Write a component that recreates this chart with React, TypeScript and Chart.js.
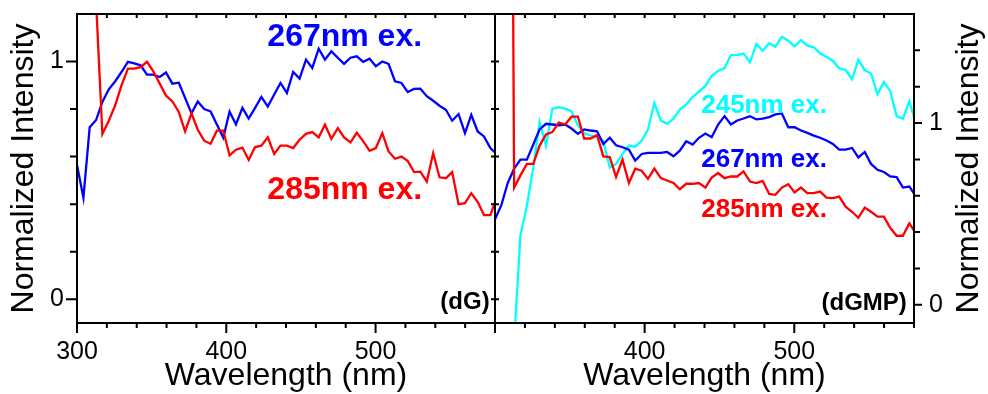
import React, { useEffect, useRef } from 'react';
import { Chart, registerables } from 'chart.js';

Chart.register(...registerables);

const FONT = '"Liberation Sans", Arial, Helvetica, sans-serif';
const BLUE = '#0000ff';
const RED = '#ff0000';
const CYAN = '#00ffff';

// Emission wavelength grid (nm)
const WAVELENGTH = [
  300.0, 304.3, 308.5, 312.8, 317.0, 321.3, 325.6, 329.8, 334.1, 338.3,
  342.6, 346.9, 351.1, 355.4, 359.6, 363.9, 368.2, 372.4, 376.7, 380.9,
  385.2, 389.5, 393.7, 398.0, 402.2, 406.5, 410.8, 415.0, 419.3, 423.5,
  427.8, 432.1, 436.3, 440.6, 444.8, 449.1, 453.4, 457.6, 461.9, 466.1,
  470.4, 474.7, 478.9, 483.2, 487.4, 491.7, 496.0, 500.2, 504.5, 508.7,
  513.0, 517.3, 521.5, 525.8, 530.0, 534.3, 538.6, 542.8, 547.1, 551.3,
  555.6, 559.9, 564.1, 568.4, 572.6, 576.9, 581.2,
];

// dG panel
const DG_267 = [
  0.565, 0.427, 0.724, 0.754, 0.83, 0.883, 0.917, 0.956, 0.999, 0.992,
  0.984, 0.945, 0.945, 0.935, 0.954, 0.907, 0.911, 0.847, 0.782, 0.832,
  0.80, 0.79, 0.735, 0.68, 0.789, 0.735, 0.805, 0.76, 0.805, 0.851,
  0.811, 0.861, 0.91, 0.868, 0.956, 0.928, 1.008, 0.973, 1.054, 1.008,
  1.043, 1.016, 0.99, 1.016, 1.022, 0.999, 1.012, 0.98, 1.0, 0.99,
  0.917, 0.91, 0.872, 0.885, 0.886, 0.854, 0.835, 0.814, 0.797, 0.751,
  0.779, 0.699, 0.776, 0.706, 0.685, 0.636, 0.61,
];
const DG_285 = [
  null, null, 2.5, 1.25, 0.695, 0.751, 0.816, 0.90, 0.97, 0.97,
  0.976, 0.999, 0.959, 0.907, 0.857, 0.832, 0.788, 0.706, 0.782, 0.713,
  0.667, 0.654, 0.709, 0.709, 0.605, 0.629, 0.638, 0.586, 0.64, 0.646,
  0.681, 0.611, 0.646, 0.646, 0.636, 0.671, 0.696, 0.703, 0.681, 0.734,
  0.675, 0.72, 0.681, 0.66, 0.70, 0.665, 0.624, 0.636, 0.699, 0.622,
  0.591, 0.60, 0.582, 0.535, 0.537, 0.495, 0.615, 0.513, 0.509, 0.535,
  0.40, 0.404, 0.446, 0.41, 0.354, 0.354, 0.43,
];

// dGMP panel
const DGMP_245 = [
  null, null, null, -0.2, 0.383, 0.544, 0.756, 1.005, 0.876, 1.079,
  1.088, 1.079, 1.066, 0.987, 0.944, 0.931, 0.926, 0.90, 0.756, 0.775,
  0.83, 0.876, 0.870, 0.904, 0.963, 1.11, 1.014, 0.996, 1.024, 1.074,
  1.103, 1.143, 1.173, 1.204, 1.26, 1.287, 1.302, 1.374, 1.374, 1.383,
  1.334, 1.435, 1.398, 1.439, 1.42, 1.475, 1.453, 1.422, 1.457, 1.426,
  1.417, 1.383, 1.365, 1.343, 1.30, 1.293, 1.241, 1.348, 1.291, 1.273,
  1.158, 1.226, 1.177, 1.038, 1.024, 1.121, 1.0,
];
const DGMP_267 = [
  0.47, 0.55, 0.67, 0.749, 0.799, 0.799, 0.882, 0.965, 0.996, 0.992,
  0.988, 0.992, 0.97, 0.941, 0.965, 0.959, 0.955, 0.885, 0.919, 0.878,
  0.867, 0.854, 0.793, 0.83, 0.836, 0.836, 0.836, 0.841, 0.817, 0.848,
  0.90, 0.882, 0.919, 0.942, 0.922, 0.992, 1.038, 0.992, 1.014, 1.025,
  1.038, 1.02, 1.025, 1.033, 1.048, 1.053, 0.977, 0.977, 0.959, 0.946,
  0.931, 0.919, 0.904, 0.885, 0.854, 0.854, 0.863, 0.811, 0.841, 0.775,
  0.743, 0.731, 0.706, 0.703, 0.645, 0.651, 0.596,
];
const DGMP_285 = [
  null, null, 7.0, 0.645, 0.712, 0.775, 0.775, 0.876, 0.937, 0.95,
  1.002, 0.992, 1.035, 1.035, 0.915, 0.915, 0.933, 0.817, 0.813, 0.703,
  0.799, 0.67, 0.749, 0.738, 0.693, 0.749, 0.697, 0.684, 0.67, 0.636,
  0.666, 0.666, 0.67, 0.645, 0.70, 0.725, 0.697, 0.706, 0.706, 0.734,
  0.678, 0.67, 0.682, 0.61, 0.605, 0.645, 0.664, 0.618, 0.645, 0.614,
  0.614, 0.623, 0.59, 0.587, 0.595, 0.54, 0.512, 0.479, 0.535, 0.512,
  0.485, 0.485, 0.424, 0.38, 0.38, 0.448, 0.393,
];

const LEFT_X_LABELS = [300, 400, 500];
const RIGHT_X_LABELS = [400, 500];
const Y_LABELS = [0, 1];
const LEFT_Y_TICKS = [0, 0.2, 0.4, 0.6, 0.8, 1.0];
const RIGHT_Y_TICKS = [0, 0.2, 0.4, 0.6, 0.8, 1.0, 1.2, 1.4];

const X_TITLE = 'Wavelength (nm)';
const Y_TITLE = 'Normalized Intensity';

type Note = { text: string; x: number; y: number; color: string; size: number; align: CanvasTextAlign };

const LEFT_NOTES: Note[] = [
  { text: '267nm ex.', x: 427.5, y: 1.067, color: BLUE, size: 32, align: 'left' },
  { text: '285nm ex.', x: 427.5, y: 0.421, color: RED, size: 32, align: 'left' },
  { text: '(dG)', x: 576.4, y: -0.043, color: '#000', size: 24, align: 'right' },
];
const RIGHT_NOTES: Note[] = [
  { text: '245nm ex.', x: 437.8, y: 1.057, color: CYAN, size: 26, align: 'left' },
  { text: '267nm ex.', x: 437.8, y: 0.761, color: BLUE, size: 26, align: 'left' },
  { text: '285nm ex.', x: 437.8, y: 0.485, color: RED, size: 26, align: 'left' },
  { text: '(dGMP)', x: 575.2, y: -0.028, color: '#000', size: 24, align: 'right' },
];

function series(values: (number | null)[], color: string) {
  return {
    data: WAVELENGTH.map((x, i) => ({ x, y: values[i] })),
    borderColor: color,
    backgroundColor: color,
    borderWidth: 2.3,
    pointRadius: 0,
    tension: 0,
    spanGaps: false,
    clip: 0,
  };
}

function notesPlugin(id: string, notes: Note[]) {
  return {
    id,
    afterDraw(chart: any) {
      const ctx = chart.ctx;
      const xs = chart.scales.x;
      const ys = chart.scales.y;
      ctx.save();
      for (const n of notes) {
        ctx.font = `bold ${n.size}px ${FONT}`;
        ctx.fillStyle = n.color;
        ctx.textAlign = n.align;
        ctx.textBaseline = 'alphabetic';
        ctx.fillText(n.text, xs.getPixelForValue(n.x), ys.getPixelForValue(n.y));
      }
      ctx.restore();
    },
  };
}

function framePlugin(id: string, side: 'left' | 'right') {
  return {
    id,
    afterDatasetsDraw(chart: any) {
      const ctx = chart.ctx;
      const a = chart.chartArea;
      const xs = chart.scales.x;
      const ys = chart.scales.y;
      ctx.save();
      ctx.strokeStyle = '#000';
      ctx.lineWidth = 2;
      ctx.strokeRect(a.left, a.top, a.right - a.left, a.bottom - a.top);
      ctx.beginPath();
      for (const t of xs.ticks) {
        const px = xs.getPixelForValue(t.value);
        const major = Math.abs(t.value % 100) < 1e-6;
        ctx.moveTo(px, a.bottom);
        ctx.lineTo(px, a.bottom + (major ? 10 : 5));
        ctx.moveTo(px, a.top);
        ctx.lineTo(px, a.top + 4);
      }
      for (const t of ys.ticks) {
        const py = ys.getPixelForValue(t.value);
        const major = Y_LABELS.some((v) => Math.abs(v - t.value) < 1e-6);
        if (side === 'left') {
          ctx.moveTo(a.left, py);
          ctx.lineTo(a.left - (major ? 11 : 7), py);
          ctx.moveTo(a.right - 4, py);
          ctx.lineTo(a.right + 4, py);
        } else {
          ctx.moveTo(a.right, py);
          ctx.lineTo(a.right + (major ? 8 : 6), py);
        }
      }
      ctx.stroke();
      ctx.restore();
    },
  };
}

const rightTitlePlugin = {
  id: 'rightTitle',
  afterDraw(chart: any) {
    const ctx = chart.ctx;
    const a = chart.chartArea;
    ctx.save();
    ctx.font = `32px ${FONT}`;
    ctx.fillStyle = '#000';
    ctx.textAlign = 'center';
    ctx.textBaseline = 'alphabetic';
    ctx.translate(a.right + 64, (a.top + a.bottom) / 2);
    ctx.rotate(-Math.PI / 2);
    ctx.fillText(Y_TITLE, 0, 0);
    ctx.restore();
  },
};

function yLabel(v: any) {
  const n = Number(v);
  const hit = Y_LABELS.find((l) => Math.abs(l - n) < 1e-6);
  return hit === undefined ? '' : String(hit);
}

function xScale(labels: number[]) {
  return {
    type: 'linear' as const,
    min: 300,
    max: 580,
    afterFit: (s: any) => {
      s.height = 71;
      s.paddingLeft = 0;
      s.paddingRight = 0;
    },
    grid: { display: false, drawTicks: false },
    border: { display: false },
    ticks: {
      stepSize: 20,
      autoSkip: false,
      maxRotation: 0,
      minRotation: 0,
      padding: 14,
      color: '#000',
      font: { size: 25, family: FONT },
      callback: (v: any) => (labels.some((l) => Math.abs(l - Number(v)) < 1e-6) ? String(Math.round(Number(v))) : ''),
    },
    title: {
      display: true,
      text: X_TITLE,
      color: '#000',
      font: { size: 32, family: FONT, lineHeight: 1 },
      padding: { top: 0, bottom: 2 },
    },
  };
}

function yScale(position: 'left' | 'right', max: number, tickValues: number[], width: number, padding: number) {
  return {
    type: 'linear' as const,
    position,
    min: -0.1,
    max,
    afterBuildTicks: (s: any) => {
      s.ticks = tickValues.map((value) => ({ value }));
    },
    afterFit: (s: any) => {
      s.width = width;
      s.paddingTop = 0;
      s.paddingBottom = 0;
    },
    grid: { display: false, drawTicks: false },
    border: { display: false },
    ticks: {
      autoSkip: false,
      padding,
      color: '#000',
      font: { size: 25, family: FONT },
      callback: yLabel,
    },
  };
}

export default function App() {
  const leftRef = useRef<HTMLCanvasElement>(null);
  const rightRef = useRef<HTMLCanvasElement>(null);

  useEffect(() => {
    Chart.defaults.font.family = FONT;
    Chart.defaults.color = '#000';

    const leftY: any = yScale('left', 1.2, LEFT_Y_TICKS, 77, 13);
    leftY.title = {
      display: true,
      text: Y_TITLE,
      color: '#000',
      font: { size: 32, family: FONT, lineHeight: 1 },
      padding: { top: 8, bottom: 0 },
    };

    const left = new Chart(leftRef.current as HTMLCanvasElement, {
      type: 'line',
      data: {
        datasets: [series(DG_285, RED), series(DG_267, BLUE)] as any,
      },
      options: {
        responsive: false,
        animation: false,
        devicePixelRatio: 1,
        events: [],
        layout: { padding: { left: 0, top: 14, right: 493, bottom: 0 } },
        plugins: { legend: { display: false }, tooltip: { enabled: false } },
        scales: {
          x: xScale(LEFT_X_LABELS) as any,
          y: leftY,
        },
      },
      plugins: [framePlugin('frameLeft', 'left'), notesPlugin('notesLeft', LEFT_NOTES)],
    });

    const right = new Chart(rightRef.current as HTMLCanvasElement, {
      type: 'line',
      data: {
        datasets: [series(DGMP_285, RED), series(DGMP_267, BLUE), series(DGMP_245, CYAN)] as any,
      },
      options: {
        responsive: false,
        animation: false,
        devicePixelRatio: 1,
        events: [],
        layout: { padding: { left: 495, top: 14, right: 0, bottom: 0 } },
        plugins: { legend: { display: false }, tooltip: { enabled: false } },
        scales: {
          x: xScale(RIGHT_X_LABELS) as any,
          y: yScale('right', 1.6, RIGHT_Y_TICKS, 74, 15) as any,
        },
      },
      plugins: [framePlugin('frameRight', 'right'), notesPlugin('notesRight', RIGHT_NOTES), rightTitlePlugin],
    });

    return () => {
      left.destroy();
      right.destroy();
    };
  }, []);

  return (
    <div style={{ position: 'absolute', left: 0, top: 0, width: 988, height: 394, background: '#fff' }}>
      <canvas ref={leftRef} width={988} height={394} style={{ position: 'absolute', left: 0, top: 0 }} />
      <canvas ref={rightRef} width={988} height={394} style={{ position: 'absolute', left: 0, top: 0 }} />
    </div>
  );
}
